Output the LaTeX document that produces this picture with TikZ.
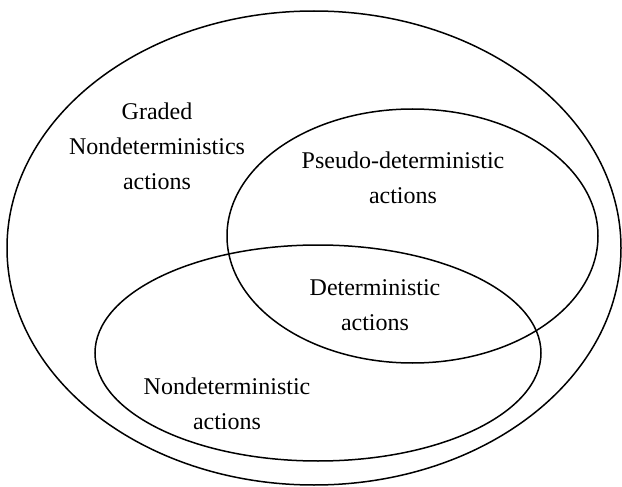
\documentclass[tikz,border=0pt]{standalone}
\usepackage{fontspec}
\setmainfont{Liberation Serif}
\begin{document}
\begin{tikzpicture}[x=1pt,y=-1pt,
  setline/.style={draw=black,line width=1.5pt},
  lbl/.style={align=center,font=\fontsize{24}{35}\selectfont,inner sep=0pt}]
\useasboundingbox (0,0) rectangle (622,487);
\draw[setline] (314,248) ellipse [x radius=307pt, y radius=237pt];
\draw[setline] (412.5,236) ellipse [x radius=185.5pt, y radius=127pt];
\draw[setline] (318,353) ellipse [x radius=223pt, y radius=108pt];
\node[lbl] (graded) at (157,146) {Graded\\Nondeterministics\\actions};
\node[lbl] (pseudo) at (403,178) {Pseudo-deterministic\\actions};
\node[lbl] (det) at (375,305) {Deterministic\\actions};
\node[lbl] (nondet) at (227,404) {Nondeterministic\\actions};
\end{tikzpicture}
\end{document}
